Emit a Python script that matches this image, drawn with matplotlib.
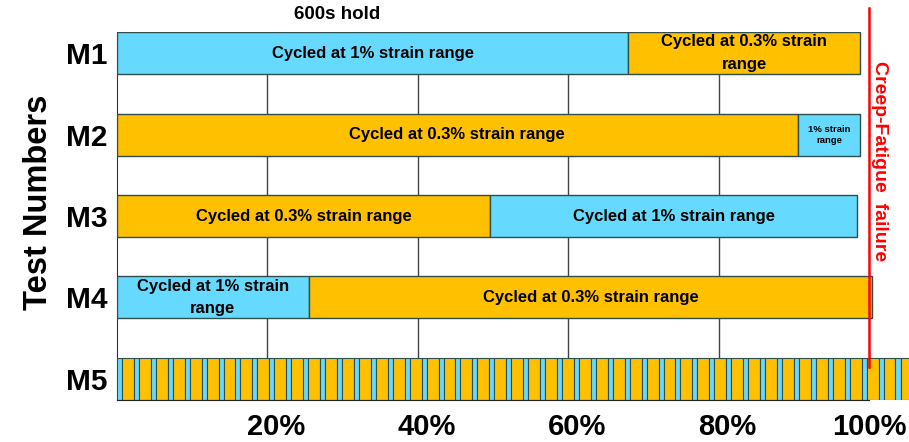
import matplotlib.pyplot as plt
import matplotlib.transforms as mtransforms

tests = ["M1", "M2", "M3", "M4", "M5"]
blue = "#66D9FF"
orange = "#FFC000"
edge = "#2F4F4F"

# segments per test: (start %, width %, colour key, label)
m1_segs = [(0, 68.0, "b", "Cycled at 1% strain range"),
           (68.0, 30.8, "o", "Cycled at 0.3% strain\nrange")]
m2_segs = [(0, 90.5, "o", "Cycled at 0.3% strain range"),
           (90.5, 8.3, "b", "1% strain\nrange")]
m3_segs = [(0, 49.6, "o", "Cycled at 0.3% strain range"),
           (49.6, 48.8, "b", "Cycled at 1% strain range")]
m4_segs = [(0, 25.5, "b", "Cycled at 1% strain\nrange"),
           (25.5, 74.9, "o", "Cycled at 0.3% strain range")]
# M5: alternating blocks, 1% then 0.3% strain range (width % of life)
m5_block = [("b", 0.67), ("o", 1.58)]
m5_repeats = 47

xticks = [20, 40, 60, 80, 100]
xticklabels = ["20%", "40%", "60%", "80%", "100%"]

colors = {"b": blue, "o": orange}

plt.rcParams['font.family'] = ['Liberation Sans', 'DejaVu Sans']
plt.rcParams['font.weight'] = 'bold'

fig = plt.figure(figsize=(9.09, 4.42), dpi=100)
ax = fig.add_axes([0.1287, 0.095, 0.8713, 0.8326])

h = 0.515
for i, segs in enumerate([m1_segs, m2_segs, m3_segs, m4_segs]):
    for start, w, c, lab in segs:
        ax.barh(i, w, left=start, height=h, color=colors[c], edgecolor=edge, linewidth=1, zorder=3)
        if w < 10:
            ax.text(start + w / 2, i, lab, ha="center", va="center", fontsize=6.8,
                    fontweight="bold", linespacing=1.3, zorder=4)
        else:
            ax.text(start + w / 2, i, lab, ha="center", va="center", fontsize=12,
                    fontweight="bold", linespacing=1.65, zorder=4)

pos = 0.0
for k in range(m5_repeats):
    for c, w in m5_block:
        ax.barh(4, w, left=pos, height=h, color=colors[c], edgecolor=edge, linewidth=0.8, zorder=3)
        pos += w

for x in xticks[:-1]:
    ax.axvline(x, color="#444444", linewidth=1, zorder=1)

ax.plot([100, 100], [3.85, -0.55], color="#FF0000", linewidth=1.8, zorder=5, clip_on=False)
ax.text(101.4, 1.33, "Creep-Fatigue  failure", rotation=-90, color="#FF0000",
        fontsize=14, fontweight="bold", ha="center", va="center")
ax.text(29.3, -0.48, "600s hold", fontsize=13.5, fontweight="bold", ha="center", va="center")

ax.set_xlim(0, 105.3)
ax.set_ylim(4.26, -0.26)
ax.set_yticks(range(5))
ax.set_yticklabels(tests, fontsize=21.5, fontweight="bold")
ax.set_xticks(xticks)
ax.set_xticklabels(xticklabels, fontsize=21, fontweight="bold")
ax.tick_params(length=0)
ax.tick_params(axis="y", pad=7)
ax.tick_params(axis="x", pad=9)
shift = mtransforms.ScaledTranslation(9 / 100, 0, fig.dpi_scale_trans)
for lbl in ax.get_xticklabels()[:-1]:
    lbl.set_transform(lbl.get_transform() + shift)

ax.set_ylabel("Test Numbers", fontsize=23.5, fontweight="bold")
ax.yaxis.set_label_coords(-0.079, 0.538)

ax.spines["top"].set_visible(False)
ax.spines["right"].set_visible(False)
ax.spines["left"].set_color("#333333")
ax.spines["bottom"].set_color("#222222")
ax.spines["bottom"].set_bounds(0, 100)
ax.spines["bottom"].set_zorder(6)

fig.savefig("out.png", dpi=100)
